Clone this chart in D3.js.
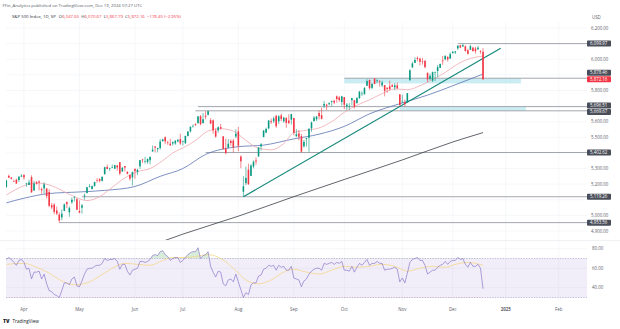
<!DOCTYPE html>
<html>
<head>
<meta charset="utf-8">
<script src="https://cdn.jsdelivr.net/npm/d3@7"></script>
<style>
  html, body { margin: 0; padding: 0; background: #ffffff; }
  svg { display: block; font-family: "Open Sans", "Liberation Sans", Arial, sans-serif; }
</style>
</head>
<body>
<svg id="chart" width="620" height="329"></svg>
<script>
// ---- S&P 500 Index, daily bars ----
const dates = [
  // Mar
  "2024-03-20","2024-03-21","2024-03-22","2024-03-25","2024-03-26","2024-03-27","2024-03-28",
  // Apr
  "2024-04-01","2024-04-02","2024-04-03","2024-04-04","2024-04-05","2024-04-08","2024-04-09","2024-04-10","2024-04-11","2024-04-12",
  "2024-04-15","2024-04-16","2024-04-17","2024-04-18","2024-04-19","2024-04-22","2024-04-23","2024-04-24","2024-04-25","2024-04-26",
  "2024-04-29","2024-04-30",
  // May
  "2024-05-01","2024-05-02","2024-05-03","2024-05-06","2024-05-07","2024-05-08","2024-05-09","2024-05-10","2024-05-13","2024-05-14",
  "2024-05-15","2024-05-16","2024-05-17","2024-05-20","2024-05-21","2024-05-22","2024-05-23","2024-05-24","2024-05-28","2024-05-29",
  "2024-05-30","2024-05-31",
  // Jun
  "2024-06-03","2024-06-04","2024-06-05","2024-06-06","2024-06-07","2024-06-10","2024-06-11","2024-06-12","2024-06-13","2024-06-14",
  "2024-06-17","2024-06-18","2024-06-20","2024-06-21","2024-06-24","2024-06-25","2024-06-26","2024-06-27","2024-06-28",
  // Jul
  "2024-07-01","2024-07-02","2024-07-03","2024-07-05","2024-07-08","2024-07-09","2024-07-10","2024-07-11","2024-07-12","2024-07-15",
  "2024-07-16","2024-07-17","2024-07-18","2024-07-19","2024-07-22","2024-07-23","2024-07-24","2024-07-25","2024-07-26","2024-07-29",
  "2024-07-30","2024-07-31",
  // Aug
  "2024-08-01","2024-08-02","2024-08-05","2024-08-06","2024-08-07","2024-08-08","2024-08-09","2024-08-12","2024-08-13","2024-08-14",
  "2024-08-15","2024-08-16","2024-08-19","2024-08-20","2024-08-21","2024-08-22","2024-08-23","2024-08-26","2024-08-27","2024-08-28",
  "2024-08-29","2024-08-30",
  // Sep
  "2024-09-03","2024-09-04","2024-09-05","2024-09-06","2024-09-09","2024-09-10","2024-09-11","2024-09-12","2024-09-13","2024-09-16",
  "2024-09-17","2024-09-18","2024-09-19","2024-09-20","2024-09-23","2024-09-24","2024-09-25","2024-09-26","2024-09-27","2024-09-30",
  // Oct
  "2024-10-01","2024-10-02","2024-10-03","2024-10-04","2024-10-07","2024-10-08","2024-10-09","2024-10-10","2024-10-11","2024-10-14",
  "2024-10-15","2024-10-16","2024-10-17","2024-10-18","2024-10-21","2024-10-22","2024-10-23","2024-10-24","2024-10-25","2024-10-28",
  "2024-10-29","2024-10-30","2024-10-31",
  // Nov
  "2024-11-01","2024-11-04","2024-11-05","2024-11-06","2024-11-07","2024-11-08","2024-11-11","2024-11-12","2024-11-13","2024-11-14",
  "2024-11-15","2024-11-18","2024-11-19","2024-11-20","2024-11-21","2024-11-22","2024-11-25","2024-11-26","2024-11-27","2024-11-29",
  // Dec
  "2024-12-02","2024-12-03","2024-12-04","2024-12-05","2024-12-06","2024-12-09","2024-12-10","2024-12-11","2024-12-12","2024-12-13",
  "2024-12-16","2024-12-17","2024-12-18"
];

const openP = [
  5181.69,5253.43,5242.48,5219.52,5228.85,5226.31,5248.03,
  5257.97,5204.29,5194.37,5244.05,5158.95,5211.37,5217.03,5167.88,5172.95,5171.51,5149.67,5064.59,5068.97,5031.52,5005.44,4987.33,5028.85,5084.86,5019.88,5084.65,5114.13,5103.78,
  5029.03,5049.32,5122.78,5142.42,5187.20,5168.98,5189.03,5225.49,5233.08,5221.10,5263.26,5310.07,5303.10,5305.35,5298.69,5319.28,5340.26,5281.45,5315.91,5278.73,5259.77,5243.21,
  5297.15,5278.24,5314.48,5357.80,5343.81,5341.22,5353.00,5409.13,5441.93,5424.08,5431.11,5476.15,5499.99,5466.77,5459.58,5460.73,5460.71,5473.59,5488.48,
  5471.08,5461.84,5507.44,5537.91,5572.75,5584.24,5591.26,5635.21,5590.76,5638.16,5644.09,5610.07,5608.56,5543.37,5544.54,5565.30,5505.84,5428.70,5433.67,5476.55,5478.73,5505.59,
  5537.84,5376.63,5151.14,5206.42,5293.13,5252.57,5312.70,5351.72,5376.98,5442.00,5501.13,5530.50,5557.23,5602.88,5603.09,5637.77,5602.10,5639.66,5602.89,5624.51,5607.30,5612.74,
  5623.89,5506.68,5524.66,5507.33,5442.07,5490.51,5496.42,5557.48,5603.34,5615.14,5655.51,5641.68,5702.63,5709.00,5711.90,5727.61,5733.65,5762.22,5755.36,5726.52,
  5757.73,5698.19,5698.87,5737.80,5737.80,5719.14,5751.80,5778.36,5775.09,5829.81,5866.74,5816.58,5875.62,5859.43,5857.82,5832.70,5834.50,5817.80,5826.75,5833.93,5819.68,5832.65,5775.34,
  5723.22,5725.15,5722.43,5864.89,5947.21,5976.76,6008.86,6003.60,5985.75,5989.68,5912.79,5874.17,5863.04,5914.85,5924.36,5944.36,5992.28,6000.03,6014.11,6003.98,
  6040.11,6042.97,6069.39,6089.03,6081.38,6083.01,6057.59,6060.15,6074.29,6068.17,6063.79,6052.55,6047.65
];
const highP = [
  5226.19,5261.10,5246.09,5229.09,5235.16,5249.26,5264.85,
  5263.95,5208.34,5228.75,5256.59,5222.18,5219.57,5224.81,5178.43,5211.78,5175.03,5168.43,5079.84,5077.96,5056.66,5019.02,5038.84,5076.12,5089.48,5057.75,5114.62,5123.49,5110.83,
  5096.12,5073.21,5139.12,5181.00,5200.23,5191.95,5214.53,5239.66,5237.26,5250.37,5311.76,5325.49,5305.45,5325.32,5324.32,5323.18,5341.88,5311.65,5315.91,5282.26,5260.21,5280.33,
  5302.11,5298.80,5354.16,5362.35,5375.08,5365.79,5375.95,5447.25,5441.93,5432.39,5488.50,5490.38,5505.53,5478.31,5490.66,5472.88,5483.14,5490.81,5523.64,
  5479.55,5509.69,5539.27,5570.33,5583.11,5590.75,5635.39,5642.45,5655.56,5666.94,5669.67,5622.49,5614.05,5557.50,5570.36,5585.34,5508.04,5491.59,5488.32,5487.74,5489.46,5551.51,
  5566.16,5383.89,5250.89,5312.34,5330.64,5328.03,5351.88,5371.20,5436.50,5463.22,5546.23,5561.98,5608.30,5620.51,5632.68,5643.22,5641.82,5651.62,5631.18,5627.03,5646.95,5651.37,
  5623.89,5552.99,5546.44,5522.47,5484.20,5497.91,5560.41,5600.71,5636.27,5636.05,5670.81,5689.75,5733.57,5715.14,5725.36,5735.32,5741.03,5767.37,5764.76,5765.14,
  5757.73,5719.14,5718.78,5753.02,5739.34,5757.60,5796.80,5795.03,5822.13,5871.41,5870.36,5846.52,5878.46,5872.17,5866.92,5863.04,5834.85,5817.80,5862.82,5842.92,5847.19,5850.94,5775.34,
  5772.55,5741.43,5783.44,5936.14,5983.84,6012.45,6017.31,6009.92,6008.19,5993.88,5915.09,5908.12,5920.67,5920.69,5962.64,5972.90,6020.75,6025.42,6020.16,6044.17,
  6053.58,6052.07,6089.84,6092.27,6099.97,6088.51,6067.24,6092.59,6079.68,6078.58,6085.19,6057.68,6070.67
];
const lowP = [
  5177.05,5240.66,5229.87,5216.09,5203.42,5213.92,5245.82,
  5229.20,5184.05,5194.37,5146.06,5157.21,5197.35,5160.78,5138.70,5138.77,5107.94,5052.47,5039.83,5007.25,5001.89,4953.56,4969.40,5027.96,5047.02,4990.58,5073.14,5088.65,5035.31,
  5013.45,5011.05,5101.22,5142.42,5178.96,5165.86,5182.99,5209.68,5211.16,5217.98,5263.26,5296.19,5283.59,5302.40,5297.87,5286.01,5256.93,5278.39,5280.89,5262.70,5222.10,5191.68,
  5234.32,5257.63,5297.64,5335.36,5331.33,5331.52,5327.25,5409.13,5402.51,5403.75,5420.40,5471.32,5455.56,5452.03,5447.59,5446.56,5451.87,5467.54,5451.12,
  5446.53,5458.43,5507.42,5531.63,5562.51,5574.57,5586.44,5576.53,5590.44,5614.75,5639.02,5584.81,5522.81,5497.04,5529.04,5550.90,5419.98,5390.95,5430.70,5444.44,5403.59,5493.75,
  5410.42,5302.03,5119.26,5193.56,5195.54,5252.57,5300.83,5324.37,5376.98,5415.02,5501.13,5525.17,5550.74,5585.50,5591.57,5560.95,5585.16,5602.34,5593.48,5560.95,5583.71,5581.79,
  5513.17,5503.66,5480.37,5402.62,5434.49,5441.72,5406.96,5535.50,5601.65,5604.53,5614.05,5615.08,5686.42,5674.49,5704.94,5698.99,5712.06,5721.01,5727.73,5703.53,
  5681.28,5674.00,5677.04,5703.78,5683.89,5714.56,5745.02,5764.76,5775.09,5829.81,5804.48,5808.34,5840.25,5846.11,5824.81,5821.17,5762.41,5784.92,5799.98,5823.08,5802.17,5811.28,5703.86,
  5723.22,5696.51,5722.10,5864.89,5947.21,5976.76,5986.69,5960.08,5965.91,5942.28,5853.01,5865.95,5853.22,5860.26,5885.09,5944.36,5963.91,5992.27,5984.87,6003.98,
  6035.33,6033.39,6061.06,6070.81,6079.98,6048.63,6029.89,6060.15,6051.25,6035.77,6059.14,6035.19,5867.79
];
const closeP = [
  5224.62,5241.53,5234.18,5218.19,5203.58,5248.49,5254.35,
  5243.77,5205.81,5211.49,5147.21,5204.34,5202.39,5209.91,5160.64,5199.06,5123.41,5061.82,5051.41,5022.21,5011.12,4967.23,5010.60,5070.55,5071.63,5048.42,5099.96,5116.17,5035.69,
  5018.39,5064.20,5127.79,5180.74,5187.70,5187.67,5214.08,5222.68,5221.42,5246.68,5308.15,5297.10,5303.27,5308.13,5321.41,5307.01,5267.84,5304.72,5306.04,5266.95,5235.48,5277.51,
  5283.40,5291.34,5354.03,5352.96,5346.99,5360.79,5375.32,5421.03,5433.74,5431.60,5473.23,5487.03,5473.17,5464.62,5447.87,5469.30,5477.90,5482.87,5460.48,
  5475.09,5509.01,5537.02,5567.19,5572.85,5576.98,5633.91,5584.54,5615.35,5631.22,5667.20,5588.27,5544.59,5505.00,5564.41,5555.74,5427.13,5399.22,5459.10,5463.54,5436.44,5522.30,
  5446.68,5346.56,5186.33,5240.03,5199.50,5319.31,5344.16,5344.39,5434.43,5455.21,5543.22,5554.25,5608.25,5597.12,5620.85,5570.64,5634.61,5616.84,5625.80,5592.18,5591.96,5648.40,
  5528.93,5520.07,5503.41,5408.42,5471.05,5495.52,5554.13,5595.76,5626.02,5633.09,5634.58,5618.26,5713.64,5702.55,5718.57,5732.93,5722.26,5745.37,5738.17,5762.48,
  5708.75,5709.54,5699.94,5751.07,5695.94,5751.13,5792.04,5780.05,5815.03,5859.85,5815.26,5842.47,5841.47,5864.67,5853.98,5851.20,5797.42,5809.86,5808.12,5823.52,5832.92,5813.67,5705.45,
  5728.80,5712.69,5782.76,5929.04,5973.10,5995.54,6001.35,5983.99,5985.38,5949.17,5870.62,5893.62,5916.98,5917.11,5948.71,5969.34,5987.37,6021.63,5998.74,6032.38,
  6047.15,6049.88,6086.49,6075.11,6090.27,6052.85,6034.91,6084.19,6051.25,6051.09,6074.08,6050.61,5872.16
];

// RSI (14), one value per bar
const rsiValues = [
  69,71,69,66,63,68,69,
  66,59,60,49,56,56,57,49,54,44,37,36,33,32,30,37,45,45,43,49,51,42,
  41,47,54,59,60,60,62,63,63,65,70,68,69,69,70,67,59,64,64,57,53,58,
  59,60,67,67,66,67,69,73,74,73,77,78,74,72,68,70,71,71,66,
  68,71,74,76,77,77,81,70,73,74,77,62,56,51,57,56,44,42,48,49,46,54,
  46,38,30,35,33,43,45,45,52,53,59,60,63,62,63,58,63,61,62,58,58,62,
  50,49,48,41,47,49,54,57,59,60,60,58,65,64,65,66,64,66,65,67,
  58,58,57,62,56,61,65,63,66,69,63,65,65,67,65,65,58,59,59,60,61,59,46,
  50,45,55,66,69,70,71,68,68,63,54,56,58,58,61,63,64,67,64,67,
  68,68,71,69,70,64,61,66,62,62,64,60,39
];

// RSI smoothing line
const rsiMaDates  = ["2024-03-20","2024-04-01","2024-04-08","2024-04-15","2024-04-22","2024-04-29","2024-05-06","2024-05-13","2024-05-20","2024-05-28",
  "2024-06-04","2024-06-11","2024-06-18","2024-06-25","2024-07-02","2024-07-09","2024-07-16","2024-07-23","2024-07-30","2024-08-06",
  "2024-08-13","2024-08-20","2024-08-27","2024-09-03","2024-09-10","2024-09-17","2024-09-24","2024-10-01","2024-10-08","2024-10-15",
  "2024-10-22","2024-10-29","2024-11-05","2024-11-12","2024-11-19","2024-11-26","2024-12-03","2024-12-10","2024-12-18"];
const rsiMaValues = [64,65,61,55,47,43,45,52,60,65, 64,63,68,71,71,72,74,70,60,48, 44,48,56,59,56,54,58,62,61,62, 64,62,57,60,62,61,64,66,63];

// Moving averages on price
const ma20Dates = ["2024-03-20","2024-04-01","2024-04-08","2024-04-15","2024-04-22","2024-04-29","2024-05-06","2024-05-13","2024-05-20","2024-05-28",
  "2024-06-04","2024-06-11","2024-06-18","2024-06-25","2024-07-02","2024-07-09","2024-07-16","2024-07-23","2024-07-30","2024-08-06",
  "2024-08-13","2024-08-20","2024-08-27","2024-09-03","2024-09-10","2024-09-17","2024-09-24","2024-10-01","2024-10-08","2024-10-15",
  "2024-10-22","2024-10-29","2024-11-05","2024-11-12","2024-11-19","2024-11-26","2024-12-03","2024-12-10","2024-12-18"];
const ma20Values = [5130,5190,5208,5195,5160,5120,5095,5120,5180,5240, 5280,5300,5350,5400,5440,5480,5540,5555,5540,5480,
  5430,5420,5460,5530,5545,5560,5600,5660,5705,5740, 5780,5810,5805,5830,5870,5915,5960,6000,6020];

const ma50Dates = ["2024-03-20","2024-04-01","2024-04-15","2024-05-01","2024-05-15","2024-06-03","2024-06-17","2024-07-01","2024-07-15","2024-08-01",
  "2024-08-15","2024-09-03","2024-09-17","2024-10-01","2024-10-15","2024-11-01","2024-11-15","2024-12-02","2024-12-18"];
const ma50Values = [5080,5110,5140,5150,5160,5185,5250,5300,5390,5440, 5450,5490,5520,5570,5650,5720,5770,5830,5905];

const ma200Dates = ["2024-05-01","2024-06-03","2024-07-01","2024-08-01","2024-09-03","2024-10-01","2024-11-01","2024-12-02","2024-12-18"];
const ma200Values = [4650,4770,4880,4995,5120,5230,5355,5470,5530];

// Rising trendline from the August low
const trendDates  = ["2024-08-05","2024-12-30"];
const trendValues = [5119.26, 6070];

// Horizontal levels and highlighted zones
const levelValues = [6099.97, 5878.46, 5696.51, 5669.67, 5402.62, 5119.26, 4953.56];
const levelStarts = ["2024-12-04","2024-10-01","2024-07-10","2024-07-09","2024-07-15","2024-05-02","2024-04-19"];
const zoneTops    = [5878.46, 5696.51];
const zoneBottoms = [5845.00, 5669.67];
const zoneStarts  = ["2024-10-01","2024-10-31"];
const zoneEnds    = ["2025-01-10","2025-01-14"];

// Empty sessions to the right of the last bar
const futureDates = ["2024-12-19","2024-12-20","2024-12-23","2024-12-24","2024-12-26","2024-12-27","2024-12-30","2024-12-31",
  "2025-01-02","2025-01-03","2025-01-06","2025-01-07","2025-01-08","2025-01-09","2025-01-10","2025-01-13","2025-01-14","2025-01-15",
  "2025-01-16","2025-01-17","2025-01-21","2025-01-22","2025-01-23","2025-01-24","2025-01-27","2025-01-28","2025-01-29","2025-01-30",
  "2025-01-31","2025-02-03","2025-02-04","2025-02-05","2025-02-06","2025-02-07","2025-02-10","2025-02-11","2025-02-12","2025-02-13","2025-02-14"];

// Axis ticks
const timeTickDates  = ["2024-04-01","2024-05-01","2024-06-03","2024-07-01","2024-08-01","2024-09-03","2024-10-01","2024-11-01","2024-12-02","2025-01-02","2025-02-03"];
const timeTickLabels = ["Apr","May","Jun","Jul","Aug","Sep","Oct","Nov","Dec","2025","Feb"];
const priceTicks = [4900,5000,5100,5200,5300,5400,5500,5600,5700,5800,5900,6000,6100,6200];
const rsiTicks = [40, 60, 80];

const lastPrice = 5872.16;
const headerTitle = "FFin_Analytics published on TradingView.com, Dec 19, 2024 07:27 UTC";
const symbolName = "S&P 500 Index, 1D, SP";
const ohlcLabels = ["O","H","L","C"];
const ohlcValues = [6047.65, 6070.67, 5867.79, 5872.16];
const dayChange = -178.45, dayChangePct = -2.95;

// ---- layout ----
const pricePane = { left: 6, right: 587, top: 0, bottom: 240 };
const rsiPane   = { left: 6, right: 587, top: 241, bottom: 302 };
const axisX = 591;
const upColor = "#089981", downColor = "#f23645";
const gridColor = "#f0f2f6";
const textColor = "#5d606b";

const svg = d3.select("#chart");
const allDates = dates.concat(futureDates);
const x = d3.scalePoint().domain(allDates).range([6.3, 581.4]);
const barW = x.step() * 0.62;
const y = d3.scaleLinear().domain([4900, 6200]).range([231, 28]);
const yr = d3.scaleLinear().domain([30, 70]).range([297.5, 258.5]);
const fmt = d3.format(",.2f");

const defs = svg.append("defs");
defs.append("clipPath").attr("id", "clipPrice").append("rect")
  .attr("x", pricePane.left).attr("y", pricePane.top)
  .attr("width", pricePane.right - pricePane.left).attr("height", pricePane.bottom - pricePane.top);
defs.append("clipPath").attr("id", "clipOB").append("rect")
  .attr("x", rsiPane.left).attr("y", rsiPane.top)
  .attr("width", rsiPane.right - rsiPane.left).attr("height", yr(70) - rsiPane.top);
defs.append("clipPath").attr("id", "clipOS").append("rect")
  .attr("x", rsiPane.left).attr("y", yr(30))
  .attr("width", rsiPane.right - rsiPane.left).attr("height", rsiPane.bottom - yr(30));

// ---- grid ----
const grid = svg.append("g");
grid.selectAll("line.v").data(timeTickDates).join("line")
  .attr("x1", d => x(d)).attr("x2", d => x(d))
  .attr("y1", 22).attr("y2", rsiPane.bottom)
  .attr("stroke", gridColor).attr("stroke-width", 0.6);
grid.selectAll("line.h").data(priceTicks).join("line")
  .attr("x1", pricePane.left).attr("x2", pricePane.right)
  .attr("y1", d => y(d)).attr("y2", d => y(d))
  .attr("stroke", gridColor).attr("stroke-width", 0.6);
grid.selectAll("line.r").data(rsiTicks).join("line")
  .attr("x1", rsiPane.left).attr("x2", rsiPane.right)
  .attr("y1", d => yr(d)).attr("y2", d => yr(d))
  .attr("stroke", gridColor).attr("stroke-width", 0.6);

// ---- price pane ----
const price = svg.append("g").attr("clip-path", "url(#clipPrice)");

// zones
price.selectAll("rect.zone").data(zoneTops).join("rect")
  .attr("x", (d, i) => x(zoneStarts[i]))
  .attr("width", (d, i) => x(zoneEnds[i]) - x(zoneStarts[i]))
  .attr("y", d => y(d))
  .attr("height", (d, i) => y(zoneBottoms[i]) - y(d))
  .attr("fill", "#bfeaf0").attr("opacity", 0.85);

// horizontal levels
price.selectAll("line.level").data(levelValues).join("line")
  .attr("x1", (d, i) => x(levelStarts[i])).attr("x2", pricePane.right)
  .attr("y1", d => y(d)).attr("y2", d => y(d))
  .attr("stroke", "#a3a6ad").attr("stroke-width", 1);

// moving averages
const lineGen = d3.line().x(d => x(d[0])).y(d => y(d[1])).curve(d3.curveMonotoneX);
price.append("path").datum(d3.zip(ma200Dates, ma200Values)).attr("d", lineGen)
  .attr("fill", "none").attr("stroke", "#3a3d45").attr("stroke-width", 0.8);
price.append("path").datum(d3.zip(ma50Dates, ma50Values)).attr("d", lineGen)
  .attr("fill", "none").attr("stroke", "#5a74b0").attr("stroke-width", 0.8);
price.append("path").datum(d3.zip(ma20Dates, ma20Values)).attr("d", lineGen)
  .attr("fill", "none").attr("stroke", "#f0a8b0").attr("stroke-width", 0.8);

// trendline
price.append("path").datum(d3.zip(trendDates, trendValues))
  .attr("d", d3.line().x(d => x(d[0])).y(d => y(d[1])))
  .attr("stroke", "#17897c").attr("stroke-width", 1.2).attr("fill", "none");

// candles
const bars = dates.map((d, i) => ({ d, o: openP[i], h: highP[i], l: lowP[i], c: closeP[i] }));
const candle = price.append("g").selectAll("g").data(bars).join("g");
candle.append("line")
  .attr("x1", b => x(b.d)).attr("x2", b => x(b.d))
  .attr("y1", b => y(b.h)).attr("y2", b => y(b.l))
  .attr("stroke", b => b.c >= b.o ? upColor : downColor).attr("stroke-width", 0.6);
candle.append("rect")
  .attr("x", b => x(b.d) - barW / 2).attr("width", barW)
  .attr("y", b => y(Math.max(b.o, b.c)))
  .attr("height", b => Math.max(0.6, Math.abs(y(b.o) - y(b.c))))
  .attr("fill", b => b.c >= b.o ? upColor : downColor);

// ---- price axis labels ----
const boxes = levelValues.map(v => ({ v, y: y(v), fill: "#4a4e58", fixed: false }));
boxes.push({ v: lastPrice, y: y(lastPrice), fill: downColor, fixed: true });
boxes.sort((a, b) => a.y - b.y);
const boxH = 6.4;
// spread overlapping labels; the last-price label keeps its place
for (let i = 1; i < boxes.length; i++) {
  const a = boxes[i - 1], b = boxes[i];
  if (b.y - a.y < boxH) {
    if (b.fixed) { a.y = b.y - boxH; }
    else if (a.fixed) { b.y = a.y + boxH; }
    else { const m = (a.y + b.y) / 2; a.y = m - boxH / 2; b.y = m + boxH / 2; }
  }
}
const axis = svg.append("g").attr("font-size", 4.4);
axis.selectAll("text.tick").data(priceTicks.filter(t => boxes.every(b => Math.abs(b.y - y(t)) > 5.5)))
  .join("text")
  .attr("x", axisX).attr("y", d => y(d)).attr("dy", "0.35em")
  .attr("fill", textColor).text(d => fmt(d));
axis.append("text").attr("x", axisX + 1).attr("y", 17).attr("dy", "0.35em")
  .attr("fill", textColor).text("USD");
const bg = axis.selectAll("g.box").data(boxes).join("g");
bg.append("rect").attr("x", pricePane.right).attr("y", b => b.y - boxH / 2 + 0.2)
  .attr("width", 24).attr("height", boxH - 0.4).attr("rx", 0.8).attr("fill", b => b.fill);
bg.append("text").attr("x", axisX - 1).attr("y", b => b.y).attr("dy", "0.35em")
  .attr("fill", "#ffffff").text(b => fmt(b.v));

// ---- RSI pane ----
const rsiG = svg.append("g");
rsiG.append("line").attr("x1", 0).attr("x2", 620).attr("y1", pricePane.bottom + 0.5).attr("y2", pricePane.bottom + 0.5)
  .attr("stroke", "#e6e8ee").attr("stroke-width", 0.6);
rsiG.append("rect").attr("x", rsiPane.left).attr("width", rsiPane.right - rsiPane.left)
  .attr("y", yr(70)).attr("height", yr(30) - yr(70)).attr("fill", "rgba(126,87,194,0.10)");
rsiG.selectAll("line.band").data([70, 30]).join("line")
  .attr("x1", rsiPane.left).attr("x2", rsiPane.right)
  .attr("y1", d => yr(d)).attr("y2", d => yr(d))
  .attr("stroke", "#a59bc6").attr("stroke-width", 0.6).attr("stroke-dasharray", "1.4,1.2");

const rsiPts = d3.zip(dates, rsiValues);
rsiG.append("path").datum(rsiPts).attr("clip-path", "url(#clipOB)")
  .attr("d", d3.area().x(d => x(d[0])).y0(yr(70)).y1(d => yr(d[1])))
  .attr("fill", "rgba(76,175,80,0.22)");
rsiG.append("path").datum(rsiPts).attr("clip-path", "url(#clipOS)")
  .attr("d", d3.area().x(d => x(d[0])).y0(yr(30)).y1(d => yr(d[1])))
  .attr("fill", "rgba(242,54,69,0.22)");
rsiG.append("path").datum(d3.zip(rsiMaDates, rsiMaValues))
  .attr("d", d3.line().x(d => x(d[0])).y(d => yr(d[1])).curve(d3.curveMonotoneX))
  .attr("fill", "none").attr("stroke", "#f5d27a").attr("stroke-width", 0.7);
rsiG.append("path").datum(rsiPts)
  .attr("d", d3.line().x(d => x(d[0])).y(d => yr(d[1])))
  .attr("fill", "none").attr("stroke", "#8a78c8").attr("stroke-width", 0.7);

axis.selectAll("text.rsi").data(rsiTicks).join("text")
  .attr("x", axisX + 1).attr("y", d => yr(d)).attr("dy", "0.35em")
  .attr("fill", textColor).text(d => fmt(d));

// ---- time axis ----
axis.selectAll("text.time").data(timeTickDates).join("text")
  .attr("x", d => x(d)).attr("y", 309).attr("dy", "0.35em")
  .attr("text-anchor", "middle").attr("fill", textColor)
  .attr("font-weight", (d, i) => /^\d+$/.test(timeTickLabels[i]) ? 700 : 400)
  .text((d, i) => timeTickLabels[i]);

// ---- header ----
const head = svg.append("g").attr("font-size", 4.3);
head.append("text").attr("x", 2.5).attr("y", 5).attr("dy", "0.35em").attr("fill", "#555a66").text(headerTitle);
const line2 = head.append("text").attr("x", 12).attr("y", 16.5).attr("dy", "0.35em").attr("fill", "#2a2e39");
line2.append("tspan").text(symbolName);
ohlcLabels.forEach((lab, i) => {
  line2.append("tspan").attr("dx", i === 0 ? 3 : 2.2).attr("fill", "#2a2e39").text(lab);
  line2.append("tspan").attr("fill", downColor).text(fmt(ohlcValues[i]));
});
line2.append("tspan").attr("dx", 2.2).attr("fill", downColor)
  .text(d3.format(",.2f")(dayChange).replace("-", "\u2212") + " (" + d3.format(".2f")(dayChangePct).replace("-", "\u2212") + "%)");

// ---- footer ----
const foot = svg.append("g");
foot.append("text").attr("x", 3).attr("y", 321.5).attr("dy", "0.35em")
  .attr("font-size", 5).attr("font-weight", 800).attr("fill", "#131722").text("TV");
foot.append("text").attr("x", 12.5).attr("y", 321.5).attr("dy", "0.35em")
  .attr("font-size", 4.6).attr("fill", "#131722").text("TradingView");
</script>
</body>
</html>
